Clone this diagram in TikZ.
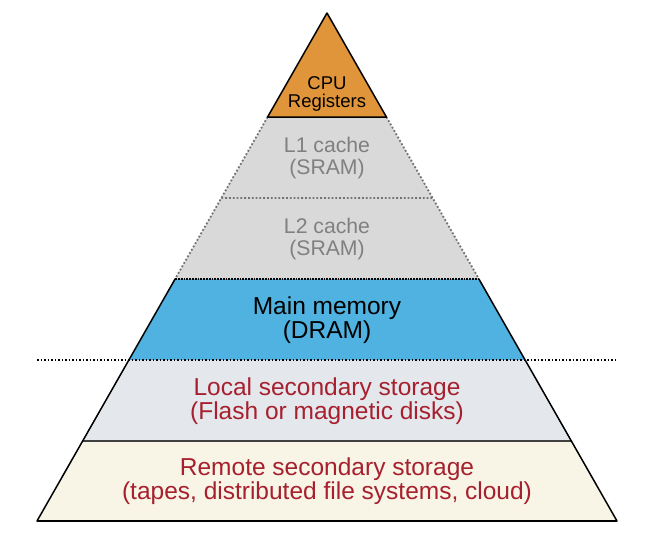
\documentclass[tikz,border=0pt]{standalone}
\usepackage{fontspec}
\setmainfont{Liberation Sans}
\definecolor{cpuorange}{HTML}{E0953A}
\definecolor{cachegray}{HTML}{D9D9D9}
\definecolor{dramblue}{HTML}{4FB2E0}
\definecolor{localgray}{HTML}{E4E7EC}
\definecolor{remotecream}{HTML}{F8F4E6}
\definecolor{storagered}{HTML}{A6202E}
\tikzset{
  level/.style={align=center,inner sep=0pt},
  cachetext/.style={level,text=black!50,font=\fontsize{21.2}{22}\selectfont},
  bigtext/.style={level,font=\fontsize{24.5}{24}\selectfont},
  storetext/.style={bigtext,text=storagered}
}
\begin{document}
\begin{tikzpicture}[x=1pt,y=-1pt,line join=round]
\useasboundingbox (0,0) rectangle (654,560);
% pyramid corners, one pair per level boundary
\coordinate (top) at (327,13);
\coordinate (La) at (267.6,117); \coordinate (Ra) at (386.4,117);
\coordinate (Lb) at (221.4,198); \coordinate (Rb) at (432.6,198);
\coordinate (Lc) at (175.1,279); \coordinate (Rc) at (478.9,279);
\coordinate (Ld) at (128.9,360); \coordinate (Rd) at (525.1,360);
\coordinate (Le) at (82.7,441);  \coordinate (Re) at (571.3,441);
\coordinate (Lf) at (37,521);    \coordinate (Rf) at (617,521);
\coordinate (cutL) at (37,360);  \coordinate (cutR) at (615,360);
% fills
\fill[cpuorange] (top) -- (Ra) -- (La) -- cycle;
\fill[cachegray] (La) -- (Ra) -- (Rc) -- (Lc) -- cycle;
\fill[dramblue] (Lc) -- (Rc) -- (Rd) -- (Ld) -- cycle;
\fill[localgray] (Ld) -- (Rd) -- (Re) -- (Le) -- cycle;
\fill[remotecream] (Le) -- (Re) -- (Rf) -- (Lf) -- cycle;
% outlines
\draw[black!55,dotted,line width=1.8pt] (La) -- (Lc) (Ra) -- (Rc) (Lb) -- (Rb);
\draw[black,densely dotted,line width=1.8pt] (Lc) -- (Rc);
\draw[black,dotted,line width=1.5pt] (cutL) -- (cutR);
\draw[black!75,line width=1.5pt] (Le) -- (Re);
\draw[black,line width=1.5pt] (Lc) -- (Lf) -- (Rf) -- (Rc);
\draw[black,line width=2.5pt] (Lf) -- (Rf);
\draw[black,line width=1.5pt] (top) -- (Ra) -- (La) -- cycle;
% labels
\node[level,font=\fontsize{18.5}{18.5}\selectfont] (cpu) at (327,94) {CPU\\Registers};
\node[cachetext] (lone) at (327,158) {L1 cache\\(SRAM)};
\node[cachetext] (ltwo) at (327,239) {L2 cache\\(SRAM)};
\node[bigtext] (dram) at (327,320) {Main memory\\(DRAM)};
\node[storetext] (local) at (327,401) {Local secondary storage\\(Flash or magnetic disks)};
\node[storetext] (remote) at (327,481) {Remote secondary storage\\(tapes, distributed file systems, cloud)};
\end{tikzpicture}
\end{document}
